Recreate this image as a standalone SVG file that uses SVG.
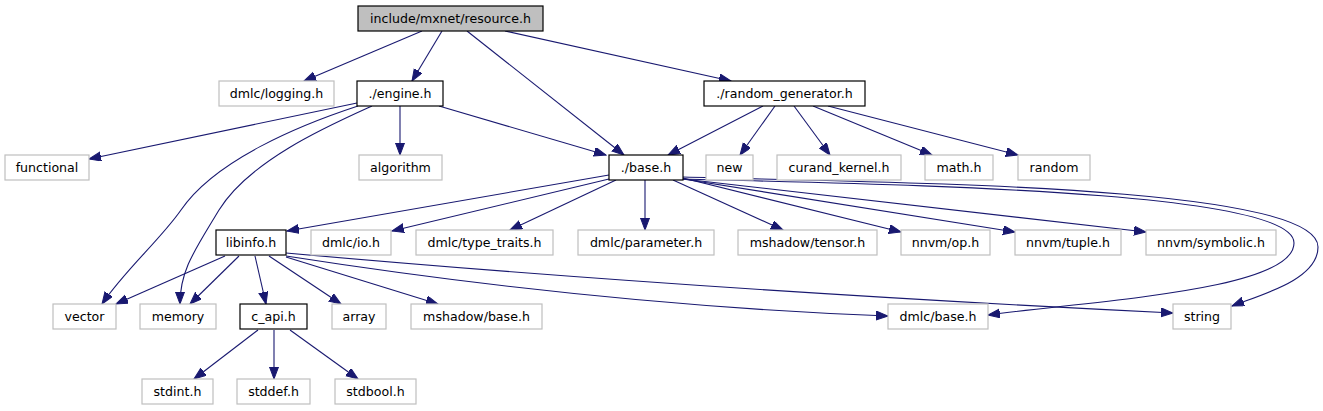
<svg xmlns="http://www.w3.org/2000/svg" width="1323" height="411" viewBox="0 0 1323 411">
<style>
  .n rect { fill: #ffffff; stroke: #bfbfbf; stroke-width: 1.2; }
  .n.d rect { stroke: #000000; }
  .n.root rect { fill: #bfbfbf; stroke: #000000; }
  .n text { font-family: "DejaVu Sans", "Liberation Sans", sans-serif; font-size: 12.6px; fill: #000000; text-anchor: middle; }
  .e path { fill: none; stroke: #191970; stroke-width: 1.1; marker-end: url(#ah); }
</style>
<defs>
  <marker id="ah" markerUnits="userSpaceOnUse" markerWidth="13" markerHeight="10" refX="12" refY="4.5" orient="auto">
    <path d="M0,0 L12,4.5 L0,9 Z" fill="#191970" stroke="#191970" stroke-width="1"/>
  </marker>
</defs>
<rect width="1323" height="411" fill="#ffffff"/>
<g id="edges" class="e">
  <path d="M422,31 L304,81"/>
  <path d="M442,31 L412,81"/>
  <path d="M467,31 L624,155"/>
  <path d="M505,31 L731,81"/>
  <path d="M357,103 L89,159"/>
  <path d="M358,106 C300,125 215,160 181,210 C160,240 125,270 102,304"/>
  <path d="M372,106 C330,125 250,160 219,210 C195,250 180,270 180,304"/>
  <path d="M400,106 L400,155"/>
  <path d="M439,106 L606,155"/>
  <path d="M763,106 L668,155"/>
  <path d="M775,106 L740,155"/>
  <path d="M794,106 L830,155"/>
  <path d="M813,106 L932,155"/>
  <path d="M828,106 L1018,155"/>
  <path d="M609,175 L287,231"/>
  <path d="M609,179 L392,231"/>
  <path d="M616,180 L510,230"/>
  <path d="M645,180 L645,230"/>
  <path d="M673,180 L783,230"/>
  <path d="M683,178 L901,232"/>
  <path d="M683,179 L1015,232"/>
  <path d="M683,179 L1146,232"/>
  <path d="M683,179 C900,185 1294,190 1294,243 C1294,290 1100,300 988,315"/>
  <path d="M683,177 C900,183 1318,185 1318,247 C1318,280 1260,295 1232,306"/>
  <path d="M225,256 L116,304"/>
  <path d="M239,256 L190,304"/>
  <path d="M255,256 L266,304"/>
  <path d="M269,256 L341,304"/>
  <path d="M286,257 L438,304"/>
  <path d="M286,256 Q600,305 888,316"/>
  <path d="M286,253 Q700,290 1173,313"/>
  <path d="M258,330 L194,379"/>
  <path d="M274,330 L274,379"/>
  <path d="M290,330 L358,379"/>
</g>
<g id="resource_h" class="n root"><rect x="358" y="6" width="185" height="25"/><text x="450.5" y="23">include/mxnet/resource.h</text></g>
<g id="dmlc_logging_h" class="n"><rect x="219" y="81" width="115" height="25"/><text x="276.5" y="98">dmlc/logging.h</text></g>
<g id="engine_h" class="n d"><rect x="357" y="81" width="86" height="25"/><text x="400" y="98">./engine.h</text></g>
<g id="random_generator_h" class="n d"><rect x="704" y="81" width="161" height="25"/><text x="784.5" y="98">./random_generator.h</text></g>
<g id="functional" class="n"><rect x="5" y="155" width="84" height="25"/><text x="47" y="172">functional</text></g>
<g id="algorithm" class="n"><rect x="359" y="155" width="83" height="25"/><text x="400.5" y="172">algorithm</text></g>
<g id="base_h" class="n d"><rect x="609" y="155" width="74" height="25"/><text x="646" y="172">./base.h</text></g>
<g id="new" class="n"><rect x="706" y="155" width="47" height="25"/><text x="729.5" y="172">new</text></g>
<g id="curand_kernel_h" class="n"><rect x="777" y="155" width="124" height="25"/><text x="839" y="172">curand_kernel.h</text></g>
<g id="math_h" class="n"><rect x="925" y="155" width="68" height="25"/><text x="959" y="172">math.h</text></g>
<g id="random" class="n"><rect x="1018" y="155" width="72" height="25"/><text x="1054" y="172">random</text></g>
<g id="libinfo_h" class="n d"><rect x="216" y="230" width="70" height="25"/><text x="251" y="247">libinfo.h</text></g>
<g id="dmlc_io_h" class="n"><rect x="311" y="230" width="80" height="25"/><text x="351" y="247">dmlc/io.h</text></g>
<g id="dmlc_type_traits_h" class="n"><rect x="416" y="230" width="137" height="25"/><text x="484.5" y="247">dmlc/type_traits.h</text></g>
<g id="dmlc_parameter_h" class="n"><rect x="578" y="230" width="136" height="25"/><text x="646" y="247">dmlc/parameter.h</text></g>
<g id="mshadow_tensor_h" class="n"><rect x="738" y="230" width="139" height="25"/><text x="807.5" y="247">mshadow/tensor.h</text></g>
<g id="nnvm_op_h" class="n"><rect x="901" y="230" width="89" height="25"/><text x="945.5" y="247">nnvm/op.h</text></g>
<g id="nnvm_tuple_h" class="n"><rect x="1015" y="230" width="106" height="25"/><text x="1068" y="247">nnvm/tuple.h</text></g>
<g id="nnvm_symbolic_h" class="n"><rect x="1146" y="230" width="130" height="25"/><text x="1211" y="247">nnvm/symbolic.h</text></g>
<g id="vector" class="n"><rect x="53" y="304" width="63" height="25"/><text x="84.5" y="321">vector</text></g>
<g id="memory" class="n"><rect x="140" y="304" width="76" height="25"/><text x="178" y="321">memory</text></g>
<g id="c_api_h" class="n d"><rect x="240" y="304" width="67" height="25"/><text x="273.5" y="321">c_api.h</text></g>
<g id="array" class="n"><rect x="332" y="304" width="54" height="25"/><text x="359" y="321">array</text></g>
<g id="mshadow_base_h" class="n"><rect x="411" y="304" width="131" height="25"/><text x="476.5" y="321">mshadow/base.h</text></g>
<g id="dmlc_base_h" class="n"><rect x="888" y="304" width="100" height="25"/><text x="938" y="321">dmlc/base.h</text></g>
<g id="string" class="n"><rect x="1173" y="304" width="58" height="25"/><text x="1202" y="321">string</text></g>
<g id="stdint_h" class="n"><rect x="142" y="379" width="71" height="25"/><text x="177.5" y="396">stdint.h</text></g>
<g id="stddef_h" class="n"><rect x="237" y="379" width="73" height="25"/><text x="273.5" y="396">stddef.h</text></g>
<g id="stdbool_h" class="n"><rect x="335" y="379" width="81" height="25"/><text x="375.5" y="396">stdbool.h</text></g>
</svg>
